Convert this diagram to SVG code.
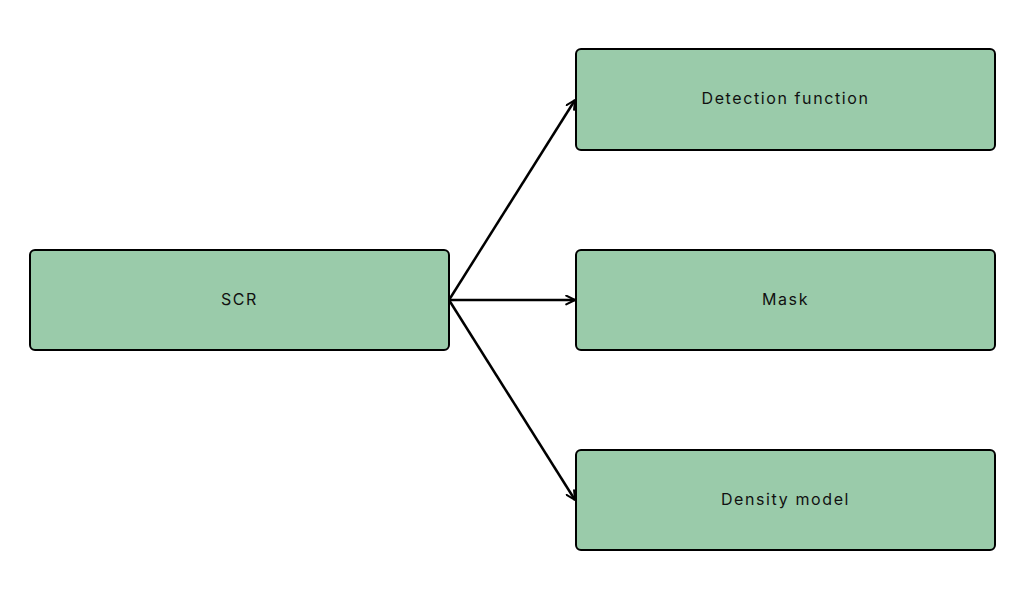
<svg xmlns="http://www.w3.org/2000/svg" width="1024" height="600" viewBox="0 0 1024 600">
<style>
.box{fill:#9acbaa;stroke:#000;stroke-width:2}
.lbl{font-family:Inter,"Liberation Sans",sans-serif;font-size:16px;letter-spacing:1.6px;fill:#111;text-anchor:middle;dominant-baseline:central}
.edge{stroke:#000;stroke-width:2.5;fill:none;marker-end:url(#arr)}
</style>
<defs>
<marker id="arr" viewBox="0 0 10 10" refX="9" refY="5" markerWidth="4.4" markerHeight="4.4" markerUnits="strokeWidth" orient="auto">
<path d="M1,1 L9,5 L1,9" fill="none" stroke="#000" stroke-width="1.8" stroke-linecap="round" stroke-linejoin="round"/>
</marker>
</defs>
<rect width="1024" height="600" fill="#fff"/>
<g id="connectors">
<line class="edge" x1="449" y1="300" x2="575" y2="100"/>
<line class="edge" x1="449" y1="300" x2="575" y2="300"/>
<line class="edge" x1="449" y1="300" x2="575" y2="500"/>
</g>
<g id="scr"><rect class="box" x="30" y="250" width="419" height="100" rx="5"/><text class="lbl" x="239.5" y="299">SCR</text></g>
<g id="detection"><rect class="box" x="576" y="49" width="419" height="101" rx="5"/><text class="lbl" x="785.5" y="98">Detection function</text></g>
<g id="mask"><rect class="box" x="576" y="250" width="419" height="100" rx="5"/><text class="lbl" x="785.5" y="299">Mask</text></g>
<g id="density"><rect class="box" x="576" y="450" width="419" height="100" rx="5"/><text class="lbl" x="785.5" y="499">Density model</text></g>
</svg>
